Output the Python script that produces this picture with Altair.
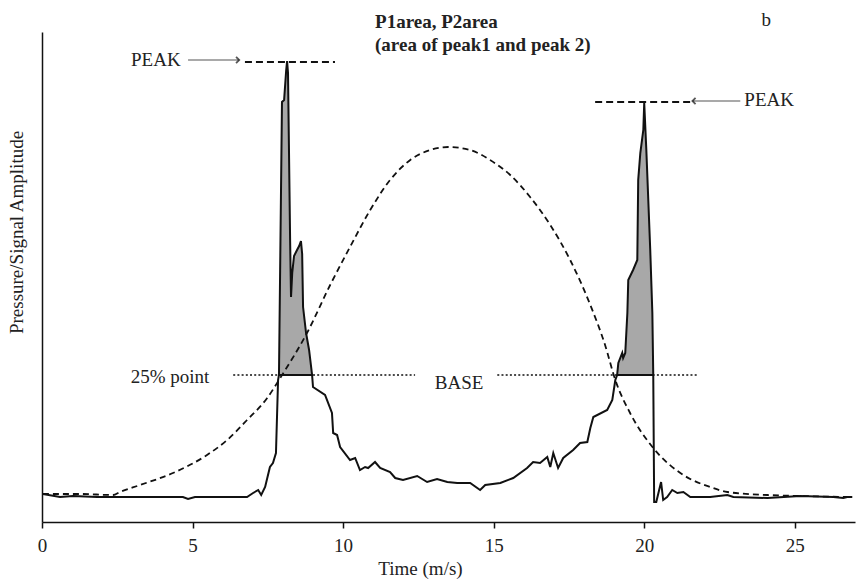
import altair as alt
import pandas as pd

# ---------------- data ----------------
sig_x = [0.03, 0.6, 1.03, 1.83, 2.49, 4.68, 4.85, 5.08, 6.81, 7.01,
         7.18, 7.28, 7.41, 7.57, 7.67, 7.77, 7.84, 7.87, 7.97, 8.04,
         8.11, 8.14, 8.17, 8.24, 8.27, 8.31, 8.37, 8.47, 8.54, 8.60,
         8.64, 8.67, 8.77, 8.87, 8.97, 9.0, 9.40, 9.63, 9.67, 9.80,
         9.90, 10.23, 10.40, 10.56, 10.73, 10.83, 11.06, 11.23, 11.56, 11.73,
         11.99, 12.46, 12.79, 13.12, 13.46, 13.79, 14.22, 14.55, 14.72, 15.22,
         15.65, 16.11, 16.31, 16.54, 16.78, 16.88, 16.98, 17.14, 17.31, 17.64,
         17.87, 18.11, 18.21, 18.31, 18.77, 18.94, 19.04, 19.10, 19.14, 19.27,
         19.30, 19.37, 19.44, 19.47, 19.63, 19.77, 19.80, 19.87, 19.97, 20.00,
         20.07, 20.20, 20.27, 20.30, 20.33, 20.40, 20.56, 20.63, 20.76, 20.93,
         21.10, 21.30, 21.53, 22.19, 22.76, 22.96, 24.09, 25.18, 26.28, 26.61,
         26.74, 26.91]
sig_y = [28, 25, 26, 25, 25, 25, 23, 25, 25, 29,
         32, 27, 35, 55, 59, 69, 142, 147, 420, 422,
         452, 461, 449, 282, 225, 249, 266, 272, 276, 281,
         268, 215, 189, 172, 147, 135, 127, 109, 89, 87,
         75, 62, 64, 52, 55, 54, 60, 54, 50, 44,
         42, 46, 40, 43, 40, 39, 39, 32, 37, 39,
         44, 54, 60, 59, 65, 55, 69, 54, 64, 72,
         79, 80, 94, 105, 112, 122, 142, 147, 159, 169,
         164, 169, 209, 242, 252, 262, 342, 369, 392, 419,
         372, 272, 209, 147, 20, 20, 40, 22, 25, 32,
         29, 30, 25, 25, 27, 25, 24, 26, 25, 24,
         25, 25]

bell_x = [0.03, 1.26, 2.36, 2.59, 3.26, 4.35, 5.48, 6.15, 6.81, 7.48,
          7.91, 8.80, 9.57, 10.23, 10.90, 11.56, 12.23, 12.89, 13.49, 14.22,
          14.88, 15.55, 16.21, 16.88, 17.54, 18.21, 18.70, 19.04, 19.53, 20.30,
          21.30, 22.19, 22.76, 24.09, 25.18, 26.74]
bell_y = [28, 28, 27, 30, 37, 49, 67, 82, 102, 124,
          144, 189, 237, 275, 312, 342, 362, 372, 375, 372,
          362, 347, 325, 297, 262, 217, 177, 142, 109, 74,
          47, 35, 30, 27, 26, 25]

base_level = 147
peak1_span = [7.87, 8.97]
peak2_span = [19.10, 20.30]
dotted_start = [6.35, 15.12]
dotted_end = [12.39, 21.76]
peak_line_start = [6.74, 18.37]
peak_line_end = [9.73, 21.53]
peak_line_level = [460, 420]
arrow_start = [4.85, 23.19]
arrow_end = [6.55, 21.60]
arrow_level = [462, 421]
arrow_shapes = ["M-1,-1L0,0L-1,1", "M1,-1L0,0L1,1"]

label_text = ["PEAK", "PEAK", "25% point", "BASE", "b"]
label_t = [3.78, 24.15, 4.25, 13.85, 24.05]
label_v = [462, 422, 145, 139, 502]

title_lines = ["P1area, P2area", "(area of peak1 and peak 2)"]
title_t = [11.06, 11.06]
title_v = [500, 477]

x_ticks = [0, 5, 10, 15, 20, 25]

# ---------------- tables ----------------
sig = pd.DataFrame({"t": sig_x, "v": sig_y, "v2": base_level})
bell = pd.DataFrame({"t": bell_x, "v": bell_y})
dots = pd.DataFrame({"t": dotted_start, "t2": dotted_end, "v": base_level})
solid_base = pd.DataFrame({"t": [peak1_span[0], peak2_span[0]],
                           "t2": [peak1_span[1], peak2_span[1]], "v": base_level})
peaks = pd.DataFrame({"t": peak_line_start, "t2": peak_line_end, "v": peak_line_level})
arrows = pd.DataFrame({"t": arrow_start, "t2": arrow_end, "v": arrow_level})
labels = pd.DataFrame({"t": label_t, "v": label_v, "label": label_text})
titles = pd.DataFrame({"t": title_t, "v": title_v, "label": title_lines})

FONT = "Liberation Serif"
INK = "#222222"
FS = 19

xaxis = alt.Axis(values=x_ticks, title="Time (m/s)", grid=False,
                 labelFont=FONT, labelFontSize=FS, labelColor=INK, labelPadding=8,
                 labelFlush=False,
                 titleFont=FONT, titleFontSize=FS, titleFontWeight="normal",
                 titleColor=INK, titleX=378, titleY=46, titleBaseline="middle",
                 domainColor="#111111", domainWidth=1.5,
                 tickColor="#111111", tickWidth=1.5, tickSize=6)
yaxis = alt.Axis(labels=False, ticks=False, grid=False,
                 title="Pressure/Signal Amplitude",
                 titleFont=FONT, titleFontSize=FS, titleFontWeight="normal",
                 titleColor=INK, titleX=-16, titleY=200, titleBaseline="bottom",
                 titleAngle=270,
                 domainColor="#111111", domainWidth=1.5)

XS = alt.Scale(domain=[0, 27], nice=False, zero=False)
YS = alt.Scale(domain=[0, 490], nice=False, zero=False)
X = alt.X("t:Q", scale=XS, axis=xaxis)
Y = alt.Y("v:Q", scale=YS, axis=yaxis)

area1 = alt.Chart(sig).mark_area(color="#a8a8a8", opacity=1).encode(
    x=X, y=Y, y2=alt.Y2("v2:Q")
).transform_filter(alt.FieldRangePredicate(field="t", range=peak1_span))
area2 = alt.Chart(sig).mark_area(color="#a8a8a8", opacity=1).encode(
    x=X, y=Y, y2=alt.Y2("v2:Q")
).transform_filter(alt.FieldRangePredicate(field="t", range=peak2_span))

bell_line = alt.Chart(bell).mark_line(
    color="#111111", strokeWidth=1.8, strokeDash=[6, 4], interpolate="monotone"
).encode(x=X, y=Y)

dotted = alt.Chart(dots).mark_rule(
    color="#111111", strokeWidth=1.6, strokeDash=[2, 2.2]
).encode(x=X, x2=alt.X2("t2:Q"), y=Y)

base_solid = alt.Chart(solid_base).mark_rule(color="#111111", strokeWidth=2).encode(
    x=X, x2=alt.X2("t2:Q"), y=Y)

sig_line = alt.Chart(sig).mark_line(color="#111111", strokeWidth=2).encode(
    x=X, y=Y, order="t:Q")

peak_lines = alt.Chart(peaks).mark_rule(
    color="#111111", strokeWidth=2, strokeDash=[7, 4]
).encode(x=X, x2=alt.X2("t2:Q"), y=Y)

arrow_lines = alt.Chart(arrows).mark_rule(color="#555555", strokeWidth=1.2).encode(
    x=X, x2=alt.X2("t2:Q"), y=Y)

head_right = alt.Chart(arrows.iloc[[0]]).mark_point(
    shape=arrow_shapes[0], filled=False, color="#111111", strokeWidth=1.8, size=40
).encode(x=alt.X("t2:Q", scale=XS, axis=xaxis), y=Y)
head_left = alt.Chart(arrows.iloc[[1]]).mark_point(
    shape=arrow_shapes[1], filled=False, color="#111111", strokeWidth=1.8, size=40
).encode(x=alt.X("t2:Q", scale=XS, axis=xaxis), y=Y)

text_labels = alt.Chart(labels).mark_text(
    font=FONT, fontSize=FS, color=INK, align="center", baseline="middle"
).encode(x=X, y=Y, text="label:N")

title_text = alt.Chart(titles).mark_text(
    font=FONT, fontSize=FS, fontWeight="bold", color=INK, align="left", baseline="middle"
).encode(x=X, y=Y, text="label:N")

chart = alt.layer(
    area1, area2, bell_line, dotted, base_solid, sig_line, peak_lines,
    arrow_lines, head_right, head_left, text_labels, title_text
).properties(
    width=813, height=490,
    autosize=alt.AutoSizeParams(type="none"),
    padding={"left": 42, "top": 32, "right": 3, "bottom": 58},
    background="white",
).configure_view(stroke=None)

chart.save("out.html", embed_options={"renderer": "svg", "actions": False})
